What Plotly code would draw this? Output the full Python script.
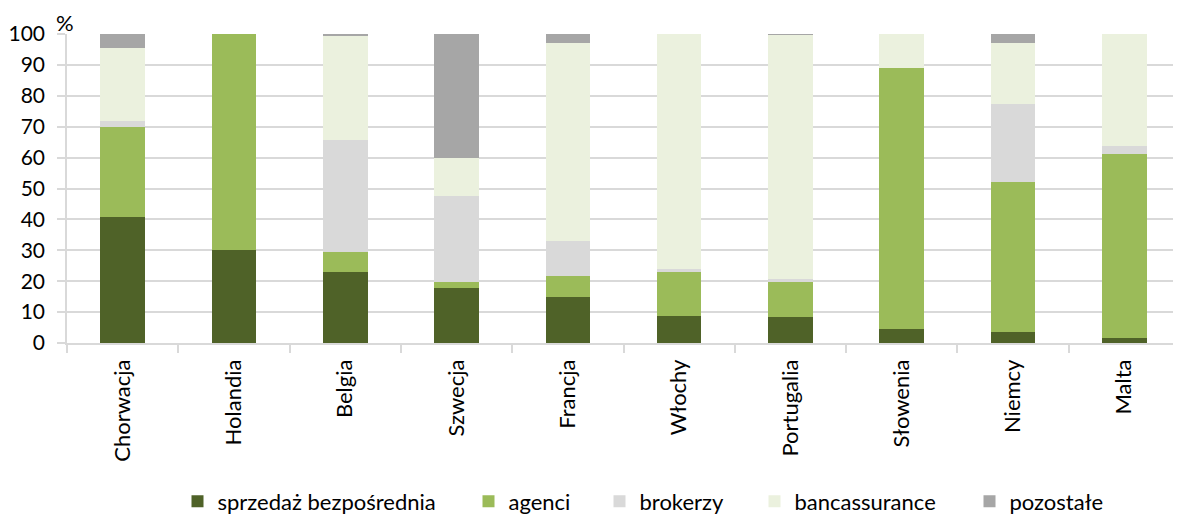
import plotly.graph_objects as go

countries = ["Chorwacja", "Holandia", "Belgia", "Szwecja", "Francja",
             "Włochy", "Portugalia", "Słowenia", "Niemcy", "Malta"]
sprzedaz = [40.8, 30.0, 23.1, 17.8, 14.9, 8.7, 8.4, 4.5, 3.7, 1.6]
agenci = [29.0, 70.0, 6.3, 1.9, 6.8, 14.4, 11.3, 84.5, 48.5, 59.5]
brokerzy = [2.2, 0.0, 36.4, 28.0, 11.3, 0.9, 1.0, 0.0, 25.0, 2.6]
bancassurance = [23.4, 0.0, 33.6, 12.1, 64.0, 76.0, 79.0, 11.0, 20.0, 36.3]
pozostale = [4.6, 0.0, 0.6, 40.2, 3.0, 0.0, 0.3, 0.0, 2.8, 0.0]

series = [
    ("sprzedaż bezpośrednia", sprzedaz, "#4F6228"),
    ("agenci", agenci, "#9BBB59"),
    ("brokerzy", brokerzy, "#D9D9D9"),
    ("bancassurance", bancassurance, "#EBF1DE"),
    ("pozostałe", pozostale, "#A6A6A6"),
]

# page has an 8px body margin, so the figure is 8px smaller than the window
W, H = 1173, 507
FONT = "Lato, sans-serif"
FS = 22
xpos = list(range(len(countries)))
# legend entry positions (px from left edge of the figure)
legend_px = [169.5, 460.5, 591.5, 746.5, 961.5]
legend_names = ["legend", "legend2", "legend3", "legend4", "legend5"]

fig = go.Figure()
for (name, vals, col), lg in zip(series, legend_names):
    fig.add_trace(go.Bar(x=xpos, y=vals, name=name, marker_color=col,
                         marker_line_width=0, legend=lg, showlegend=True))

layout = dict(
    barmode="stack",
    bargap=0.6,
    width=W, height=H,
    showlegend=True,
    margin=dict(l=59, r=1, t=26, b=172),
    plot_bgcolor="white", paper_bgcolor="white",
    font=dict(family=FONT, size=FS, color="#000000"),
    annotations=[dict(text="%", xref="paper", yref="paper", x=0, y=1.0,
                      xanchor="center", yanchor="bottom", showarrow=False,
                      font=dict(size=FS), yshift=-4, xshift=-2)],
)
for lg, px in zip(legend_names, legend_px):
    layout[lg] = dict(orientation="h", xref="container", yref="container",
                      x=px / W, xanchor="left", y=13.5 / H, yanchor="middle",
                      font=dict(size=FS), bgcolor="rgba(0,0,0,0)", visible=True)
fig.update_layout(**layout)

fig.update_xaxes(range=[-0.5, 9.5], tickvals=xpos, ticktext=countries, tickangle=-90,
                 ticks="", showline=True, linecolor="#D9D9D9", linewidth=1.5,
                 showgrid=False, zeroline=False, automargin=False,
                 ticklabelstandoff=6,
                 minor=dict(tick0=-0.5, dtick=1, ticks="outside", ticklen=8,
                            tickcolor="#D9D9D9", tickwidth=1.5, showgrid=False))
fig.update_yaxes(range=[0, 100], dtick=10, showgrid=True, gridcolor="#D9D9D9",
                 gridwidth=1.5, showline=True, linecolor="#D9D9D9", linewidth=1.5,
                 ticks="outside", ticklen=8, tickcolor="#D9D9D9", tickwidth=1.5,
                 zeroline=False, automargin=False, ticklabelstandoff=8,
                 tickfont=dict(size=21))

fig.write_html("out.html")
